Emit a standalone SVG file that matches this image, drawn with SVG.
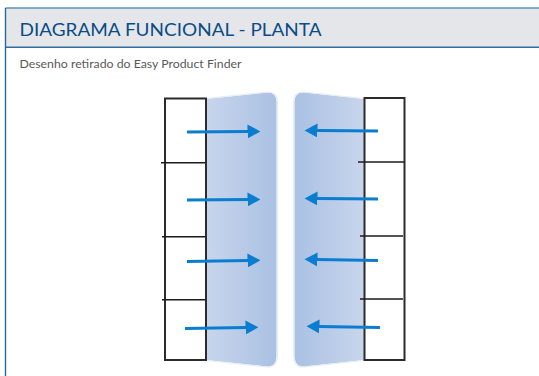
<svg xmlns="http://www.w3.org/2000/svg" width="539" height="376" viewBox="0 0 539 376">
<defs>
<linearGradient id="gl" x1="0" x2="1" y1="0" y2="0"><stop offset="0" stop-color="#c8d6ec"/><stop offset="0.5" stop-color="#b9cbe8"/><stop offset="1" stop-color="#aac1e3"/></linearGradient>
<linearGradient id="gr" x1="1" x2="0" y1="0" y2="0"><stop offset="0" stop-color="#c8d6ec"/><stop offset="0.5" stop-color="#b9cbe8"/><stop offset="1" stop-color="#aac1e3"/></linearGradient>
<marker id="ah" markerUnits="userSpaceOnUse" markerWidth="13" markerHeight="14" refX="0.5" refY="7" orient="auto"><path d="M0 0L13 7L0 14Z" fill="#0a7dd0"/></marker>
</defs>
<style>
.box{fill:#fff;stroke:#2c2a2b;stroke-width:2}
.div{stroke:#1d1b1c;stroke-width:1.6;fill:none}
.arr{stroke:#0a7dd0;stroke-width:3;fill:none;marker-end:url(#ah)}
.edge{fill:none;stroke:#e6edf7;stroke-width:1.2}
text{font-family:"Lato","Liberation Sans",sans-serif}
</style>
<rect width="539" height="376" fill="#fff"/>
<g id="header">
<rect x="5.5" y="8" width="534" height="39" fill="#e4e6e9"/>
<path d="M5.5 8H539" stroke="#5f93b8" stroke-width="1.4" fill="none"/>
<path d="M5.5 47.2H539" stroke="#2f6d9f" stroke-width="1.6" fill="none"/>
<path d="M5.5 8V376" stroke="#2a689e" stroke-width="1.4" fill="none"/>
<text x="19.5" y="35.5" font-size="18" textLength="302" lengthAdjust="spacingAndGlyphs" fill="#0a4c86">DIAGRAMA FUNCIONAL - PLANTA</text>
<text x="19.5" y="68" font-size="10.5" textLength="222" lengthAdjust="spacingAndGlyphs" fill="#5a5a5a">Desenho retirado do Easy Product Finder</text>
</g>
<g id="panel-left">
<path d="M206 99L267 92.5Q276.5 92 276.5 102V355Q276.5 367 267 366.5L206 360Z" fill="url(#gl)"/>
<path class="edge" d="M206 98.5L267 92Q277 91.5 277.5 102V355Q277.5 367.5 267 367L206 360.5"/>
</g>
<g id="panel-right">
<path d="M364 99L304 92.5Q294.5 92 294.5 102V355Q294.5 367 304 366.5L364 360Z" fill="url(#gr)"/>
<path class="edge" d="M364 98.5L304 92Q294 91.5 293.5 102V355Q293.5 367.5 304 367L364 360.5"/>
</g>
<g id="doors-left">
<rect class="box" x="165" y="98.5" width="41" height="261.5"/>
<path class="div" d="M161 162.7H205M162 236.7H205M162 299.7H205"/>
</g>
<g id="doors-right">
<rect class="box" x="364.5" y="98" width="40" height="262"/>
<path class="div" d="M358 162H404M360 236H403M360 299H403"/>
</g>
<g id="connectors">
<path class="arr" d="M187 132L248 131.5"/>
<path class="arr" d="M187 200L248 199.5"/>
<path class="arr" d="M187 261.5L248 260.5"/>
<path class="arr" d="M185 328.5L246 327.5"/>
<path class="arr" d="M378 131L317 130.5"/>
<path class="arr" d="M378 199L317 198.5"/>
<path class="arr" d="M378 260.5L317 259.5"/>
<path class="arr" d="M380 327.5L319 326.5"/>
</g>
</svg>
